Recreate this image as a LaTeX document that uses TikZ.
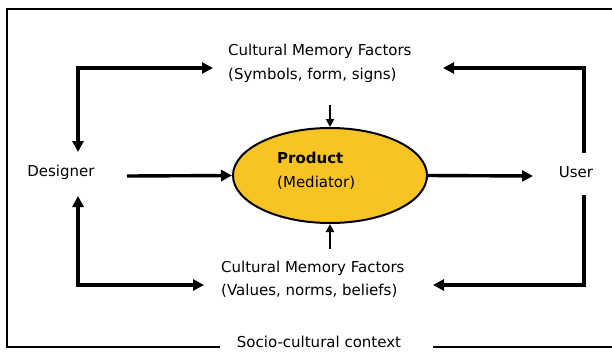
\documentclass[tikz,border=0pt]{standalone}
\usepackage{fontspec}
\setmainfont{DejaVu Sans}
\usetikzlibrary{arrows.meta,shapes.geometric}
\definecolor{prodyellow}{RGB}{248,196,36}
\tikzset{
  lbl/.style={font=\fontsize{15}{23.5}\selectfont, inner sep=0pt, align=left},
  tip/.style={-{Triangle[length=11pt,width=11pt]}},
  arr/.style={line width=3.4pt, tip},
  sarr/.style={line width=2.2pt, -{Triangle[length=8pt,width=8pt]}},
  frame/.style={line width=2.4pt},
}
\begin{document}
\begin{tikzpicture}[x=1pt,y=-1pt]
\useasboundingbox (0,0) rectangle (612,351);
\fill[white] (0,0) rectangle (612,351);
% frame
\draw[frame] (612,9) -- (7,9) -- (7,347) -- (220,347);
\draw[frame] (433,347) -- (612,347);
\node[lbl] (ctx) at (319,342) {Socio-cultural context};
% nodes
\node[lbl] (des) at (61,172) {Designer};
\node[lbl] (usr) at (576,172) {User};
\node[lbl, anchor=west] (top) at (228,63.5) {Cultural Memory Factors\\(Symbols, form, signs)};
\node[lbl, anchor=west] (bot) at (221,279.5) {Cultural Memory Factors\\(Values, norms, beliefs)};
\node[draw=black, line width=2pt, fill=prodyellow, ellipse, minimum width=194pt, minimum height=95pt, inner sep=0pt] (prod) at (330,175.5) {};
\node[lbl, anchor=west] (ptext) at (277,171) {\textbf{Product}\\(Mediator)};
% corners
\coordinate (tl) at (78,68);
\coordinate (tr) at (584,68);
\coordinate (bl) at (78,285);
\coordinate (br) at (584,285);
% main arrows
\draw[arr] (127,176) -- (prod.west);
\draw[arr] (prod.east) -- (533,176);
\draw[sarr] (330,105) -- (prod.north);
\draw[sarr] (330,249) -- (prod.south);
% loops
\draw[arr, {Triangle[length=11pt,width=11pt]}-{Triangle[length=11pt,width=11pt]}] (78,152) -- (tl) -- (213,68);
\draw[arr, {Triangle[length=11pt,width=11pt]}-{Triangle[length=11pt,width=11pt]}] (78,196) -- (bl) -- (204,285);
\draw[arr] (584,153) -- (tr) -- (443,68);
\draw[arr] (584,195) -- (br) -- (433,285);
\end{tikzpicture}
\end{document}
